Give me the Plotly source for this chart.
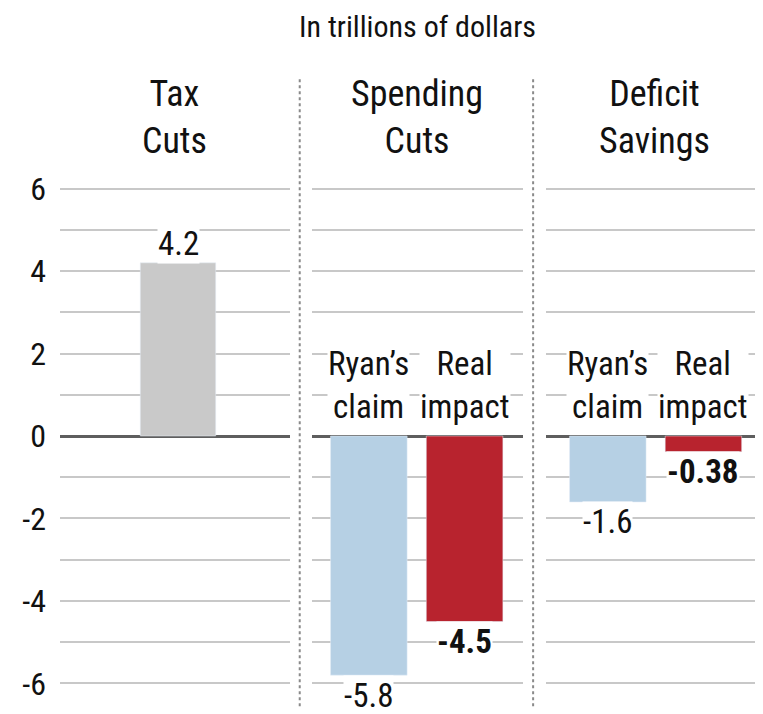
import plotly.graph_objects as go

# ---- data ----
panel_titles = ["Tax<br>Cuts", "Spending<br>Cuts", "Deficit<br>Savings"]
tax_cats = ["Tax Cuts"]
tax_vals = [4.2]
spend_cats = ["Ryan’s claim", "Real impact"]
spend_vals = [-5.8, -4.5]
deficit_cats = ["Ryan’s claim", "Real impact"]
deficit_vals = [-1.6, -0.38]
cat_labels = ["Ryan’s<br>claim", "Real<br>impact"]
tick_vals = [-6, -5, -4, -3, -2, -1, 0, 1, 2, 3, 4, 5, 6]
tick_text = ["-6", "", "-4", "", "-2", "", "0", "", "2", "", "4", "", "6"]
unit_title = "In trillions of dollars"

GRAY = "#c9c9c9"
BLUE = "#b6d0e4"
RED = "#b8232e"
FONT = "Roboto Condensed"
INK = "#111111"

fig = go.Figure()
fig.add_trace(go.Bar(x=tax_cats, y=tax_vals, marker_color=GRAY, width=0.79,
                     xaxis="x", yaxis="y", hoverinfo="skip"))
fig.add_trace(go.Bar(x=spend_cats, y=spend_vals, marker_color=[BLUE, RED], width=0.80,
                     xaxis="x2", yaxis="y2", hoverinfo="skip"))
fig.add_trace(go.Bar(x=deficit_cats, y=deficit_vals, marker_color=[BLUE, RED], width=0.80,
                     xaxis="x3", yaxis="y3", hoverinfo="skip"))

yrange = [-6.5, 6.5]
common_y = dict(range=yrange, tickvals=tick_vals, showgrid=True, gridcolor="#c8c8c8",
                gridwidth=1.5, zeroline=True, zerolinecolor="#5e5e5e", zerolinewidth=3,
                fixedrange=True, showline=False, ticks="")
common_x = dict(type="category", showticklabels=False, showgrid=False, zeroline=False,
                showline=False, ticks="", fixedrange=True)

# the page body adds an 8px offset, so the figure is sized to fill the rest of the window
fig.update_layout(
    width=755, height=706,
    margin=dict(l=52, r=0, t=160, b=10),
    paper_bgcolor="white", plot_bgcolor="white",
    showlegend=False,
    font=dict(family=FONT, color=INK),
    xaxis=dict(domain=[0, 0.327], range=[-1.236, 1.172], **common_x),
    xaxis2=dict(domain=[0.358, 0.659], range=[-0.597, 1.613], **common_x),
    xaxis3=dict(domain=[0.691, 1.0], range=[-0.649, 1.623], **common_x),
    yaxis=dict(anchor="x", ticktext=tick_text, showticklabels=True,
               tickfont=dict(size=32, family=FONT, color=INK), ticklabelstandoff=13,
               **common_y),
    yaxis2=dict(anchor="x2", matches="y", showticklabels=False, **common_y),
    yaxis3=dict(anchor="x3", matches="y", showticklabels=False, **common_y),
)

annotations = []
annotations.append(dict(text=unit_title, xref="x2 domain", yref="paper", x=0.5, y=1.0,
                        yshift=142, yanchor="middle", showarrow=False,
                        font=dict(size=30, family=FONT, color=INK)))
for i, t in enumerate(panel_titles):
    ax = "x" if i == 0 else f"x{i+1}"
    annotations.append(dict(text=t, xref=f"{ax} domain", yref="y domain", x=0.5,
                            y=1.0, yanchor="bottom", yshift=4, showarrow=False,
                            font=dict(size=36, family=FONT, color=INK)))

def value_label(xref, yref, cat, v, bold):
    txt = f"<b>{v}</b>" if bold else f"{v}"
    return dict(text=txt, x=cat, y=v, xref=xref, yref=yref, showarrow=False,
                yanchor="middle", yshift=(19 if v > 0 else -20), bgcolor="white",
                borderpad=0, font=dict(size=33, family=FONT, color=INK))

annotations.append(value_label("x", "y", tax_cats[0], tax_vals[0], False))
for xr, yr, cats, vals in [("x2", "y2", spend_cats, spend_vals),
                           ("x3", "y3", deficit_cats, deficit_vals)]:
    for j, (c, v) in enumerate(zip(cats, vals)):
        annotations.append(value_label(xr, yr, c, v, j == 1))
        annotations.append(dict(text=cat_labels[j], x=c, y=0, xref=xr, yref=yr,
                                showarrow=False, yanchor="bottom", yshift=9,
                                bgcolor="white", borderpad=0,
                                font=dict(size=33, family=FONT, color=INK)))
fig.update_layout(annotations=annotations)

for xp in [0.341, 0.673]:
    fig.add_shape(type="line", xref="paper", yref="paper", x0=xp, x1=xp, y0=-0.004, y1=1.168,
                  line=dict(color="#8a8a8a", width=2, dash="dot"))

fig.write_html("out.html")
